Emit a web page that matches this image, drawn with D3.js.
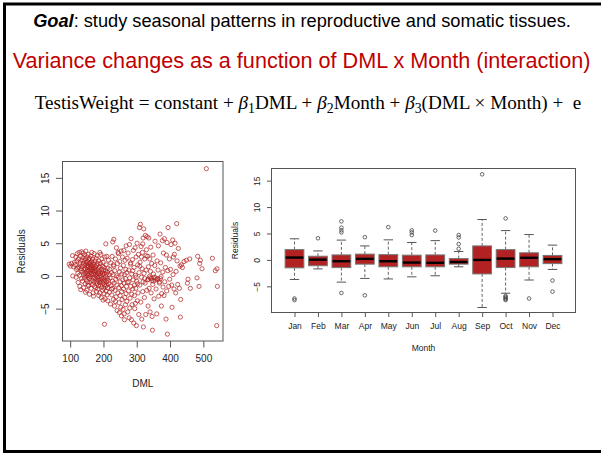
<!DOCTYPE html>
<html>
<head>
<meta charset="utf-8">
<script src="https://cdn.jsdelivr.net/npm/d3@7"></script>
<style>
  body { margin: 0; background: #fff; }
  svg { display: block; }
</style>
</head>
<body>
<svg id="slide" width="601" height="453"></svg>
<script>
// ---- data ----
var scatterDML = [
  97,101,104,107,108,110,113,115,117,119,120,121,123,124,125,126,127,128,129,130,131,132,133,134,134,135,133,129,122,118,
  136,137,138,138,139,140,140,141,142,142,143,144,144,145,145,146,146,147,147,148,148,149,149,150,150,151,151,152,152,153,
  153,154,154,155,155,156,156,157,157,158,158,159,159,160,160,161,161,162,162,163,163,164,164,165,165,166,166,167,167,168,
  168,169,169,170,170,171,171,172,172,173,173,174,174,175,175,153,158,146,165,170,
  176,176,177,177,178,178,179,179,180,180,181,181,182,182,183,183,184,184,185,185,186,186,187,187,188,188,189,189,190,190,
  191,191,192,192,193,193,194,194,195,195,196,196,197,197,198,198,199,199,200,200,201,201,202,202,203,203,204,204,205,205,
  206,206,207,207,208,208,209,209,210,210,211,211,212,212,213,213,214,215,216,217,
  218,219,220,221,222,223,224,225,226,227,228,228,229,230,231,231,232,233,234,235,236,237,238,239,240,240,241,242,243,244,
  245,246,247,248,249,250,250,251,252,253,254,255,255,256,257,258,259,260,260,261,262,263,263,264,265,266,266,267,268,268,
  269,270,270,262,254,248,244,236,230,224,
  271,272,273,274,275,276,277,278,279,280,281,282,283,284,285,286,287,288,289,290,291,292,293,294,295,296,297,298,299,300,
  301,302,303,304,305,306,307,308,309,310,311,312,313,314,315,316,317,318,319,320,321,322,323,324,325,326,327,328,329,330,
  276,282,288,293,298,303,309,314,319,324,279,296,318,328,285,
  331,332,333,334,335,336,337,338,339,340,341,342,343,344,345,346,347,348,349,350,351,352,354,355,356,358,360,361,362,364,
  365,366,368,370,371,372,374,375,377,378,379,380,382,383,384,386,388,389,390,391,392,393,394,396,398,399,
  335,340,345,352,357,363,369,373,
  401,403,405,406,408,409,410,412,413,415,417,418,420,421,423,425,428,430,431,432,434,437,442,449,452,454,459,461,481,483,
  487,489,491,496,509,527,536,541,542,540
];
var scatterResid = [
  1.8,1.5,1.9,3.1,0.0,1.4,2.1,1.7,2.9,1.0,2.3,3.4,0.4,-1.0,2.6,1.3,3.6,0.1,-1.6,2.0,3.0,-2.1,1.1,3.7,-0.4,2.4,0.8,1.7,1.2,-0.2,
  1.5,-0.8,2.8,0.6,3.5,1.9,-1.8,0.2,2.3,1.0,-0.3,3.2,1.6,0.4,-1.2,2.6,1.1,0.0,3.8,1.8,-0.6,2.1,0.7,1.3,-2.2,2.9,0.3,1.6,-0.9,2.2,
  0.9,-0.2,3.3,1.4,0.1,2.5,-1.5,0.8,1.9,-0.4,2.7,1.2,0.5,-1.0,2.0,1.6,-0.1,0.9,3.0,1.3,-1.9,0.4,2.2,-0.7,1.0,1.8,0.2,-1.3,2.6,0.7,
  1.5,-0.3,-2.6,1.1,2.0,0.3,-0.9,1.7,3.4,0.6,-1.6,1.2,-0.2,2.3,0.8,-1.4,-2.8,-2.5,3.6,-3.1,
  -0.5,1.4,0.2,-1.8,2.7,0.9,-0.9,-2.4,1.6,0.0,-1.2,3.1,0.5,-0.3,1.9,-2.0,-0.7,1.1,0.3,-1.5,2.3,-3.0,0.7,-0.1,-1.0,1.4,3.6,-2.6,0.4,-0.6,
  1.9,-1.4,0.1,3.3,-0.9,-3.3,1.0,-0.2,2.6,-1.7,0.6,-0.5,-2.2,1.5,-1.1,0.2,-3.7,2.1,-0.8,0.9,-1.9,-0.3,1.3,-2.7,-7.4,0.4,-1.3,2.9,-0.6,-3.5,
  0.8,-1.6,-0.1,4.9,-2.3,1.7,-0.9,0.3,-1.4,3.0,-2.9,0.6,-0.4,-1.8,1.2,-3.8,-0.7,2.4,-1.2,0.2,
  -2.5,1.0,-0.3,-4.3,2.0,-1.5,0.5,-2.9,3.0,-0.8,5.2,-1.9,0.2,-3.6,5.6,1.5,-1.1,-4.6,0.8,-2.2,2.6,-0.5,-3.2,4.3,-1.4,0.0,-5.3,1.9,-2.6,-0.2,
  3.4,-1.8,-4.1,0.6,2.2,-3.0,-0.9,1.2,-4.8,3.8,-1.5,-2.4,0.3,-3.6,2.9,-0.6,-5.1,1.6,-2.0,3.9,-1.1,-6.7,0.2,-3.3,2.4,-0.4,-4.4,1.0,-2.7,4.6,
  -1.6,0.5,-3.9,-5.8,-6.1,-5.6,3.6,-3.9,1.7,-2.0,
  2.7,-1.0,-5.5,3.5,-2.3,0.9,-6.4,4.8,-0.3,-3.4,1.8,-1.6,5.7,-6.7,0.3,-4.4,2.5,-2.0,-0.6,3.9,-7.2,1.3,-3.0,-5.0,4.3,0.1,-1.9,2.9,-7.6,-0.8,
  5.0,-3.8,1.7,-2.6,3.3,-5.9,0.5,7.4,-1.4,2.1,7.9,-4.0,4.5,-0.2,-6.6,1.1,3.6,-2.4,5.8,-7.8,7.2,0.4,-3.3,2.6,-1.1,6.2,-5.9,0.9,4.0,-2.2,
  -0.9,2.0,0.8,-1.4,-0.2,-1.2,1.5,2.9,-0.9,-0.4,-4.9,-4.2,4.9,3.1,-2.8,
  6.0,-0.6,3.0,-4.6,1.4,5.8,-1.9,-0.1,2.6,-5.5,0.7,4.4,-2.6,-0.4,1.9,-6.2,-8.3,-1.3,3.2,0.3,-0.8,-3.5,1.6,5.3,-0.3,-2.0,-5.8,2.3,-0.5,0.9,
  4.6,-3.1,-1.1,6.4,-0.4,2.0,-4.6,-2.7,5.4,0.6,-1.7,3.5,-3.0,5.7,-0.9,1.3,-6.6,3.2,-2.3,5.1,-8.9,0.8,7.4,-1.6,2.6,-0.5,
  -0.5,-0.3,-0.7,-0.2,-0.6,-0.4,-0.9,-0.1,
  1.0,4.8,-1.4,-4.8,5.5,0.2,2.9,-2.0,3.3,5.0,-2.6,0.7,8.0,2.3,-1.3,4.2,-1.9,1.5,-6.3,-3.6,1.7,1.3,2.2,2.4,-1.1,-0.5,2.6,-1.9,-0.3,3.0,
  -1.6,1.9,2.4,1.1,16.4,2.7,0.8,1.1,-1.6,-7.6
];

var months    = ["Jan","Feb","Mar","Apr","May","Jun","Jul","Aug","Sep","Oct","Nov","Dec"];
var boxLow    = [-3.7,-1.7,-4.2,-3.5,-3.6,-3.2,-3.0,-1.3,-9.0,-6.3,-3.8,-1.8];
var boxQ1     = [-1.5,-1.1,-1.45,-0.8,-1.3,-1.3,-1.3,-0.8,-2.65,-1.45,-1.3,-0.7];
var boxMedian = [0.45,0.05,-0.25,0.2,-0.25,-0.5,-0.55,-0.4,0.0,0.25,0.4,0.15];
var boxQ3     = [1.95,0.7,0.95,1.1,1.0,0.9,0.95,0.25,2.65,1.95,1.35,0.85];
var boxHigh   = [4.0,1.7,3.75,2.65,3.8,3.3,3.65,1.6,7.65,5.55,4.8,2.8];
var boxOutliers = [
  [-7.3,-7.6],
  [4.1],
  [7.3,6.1,5.6,5.2,-6.25],
  [4.3,-6.7],
  [6.2],
  [5.6,5.2,4.7],
  [5.55],
  [4.7,4.25,3.0,2.1],
  [16.2],
  [7.85,-6.8,-7.0,-7.2,-7.4,-7.6],
  [-7.3],
  [-3.9,-6.0]
];
var residTicks = [-5, 0, 5, 10, 15];
var dmlTicks = [100, 200, 300, 400, 500];

var red = "#b22222";
var axisCol = "#555";
var textCol = "#222";

var svg = d3.select("#slide");

svg.append("rect").attr("width", 601).attr("height", 453).attr("fill", "#fff");

// slide frame (right side runs off the page)
svg.append("rect")
    .attr("x", 4.5).attr("y", 4)
    .attr("width", 660).attr("height", 447.5)
    .attr("fill", "none").attr("stroke", "#000").attr("stroke-width", 3);

// stretch a text line so it spans a given width
function fitWidth(sel, w) {
  var len = sel.node().getComputedTextLength();
  var fs = parseFloat(sel.attr("font-size"));
  sel.attr("font-size", (fs * w / len).toFixed(2));
}

// ---- heading lines ----
var goal = svg.append("text")
    .attr("x", 302).attr("y", 27)
    .attr("text-anchor", "middle")
    .attr("font-family", "Liberation Sans, Arial, sans-serif")
    .attr("font-size", 16)
    .attr("fill", "#000");
goal.append("tspan").attr("font-weight", "bold").attr("font-style", "italic").text("Goal");
goal.append("tspan").text(": study seasonal patterns in reproductive and somatic tissues.");
fitWidth(goal, 538);

var variance = svg.append("text")
    .attr("x", 301.5).attr("y", 68)
    .attr("text-anchor", "middle")
    .attr("font-family", "Liberation Sans, Arial, sans-serif")
    .attr("font-size", 20)
    .attr("fill", "#c00000")
    .text("Variance changes as a function of DML x Month (interaction)");
fitWidth(variance, 578);

// equation, built piece by piece so the betas get subscripts
var eq = svg.append("text")
    .attr("x", 308).attr("y", 109)
    .attr("text-anchor", "middle")
    .attr("font-family", "Liberation Serif, DejaVu Serif, serif")
    .attr("font-size", 17)
    .attr("fill", "#000")
    .style("white-space", "pre");
var eqParts = [
  { t: "TestisWeight = constant + " },
  { t: "β", it: true }, { t: "1", sub: true },
  { t: "DML + " },
  { t: "β", it: true }, { t: "2", sub: true },
  { t: "Month + " },
  { t: "β", it: true }, { t: "3", sub: true },
  { t: "(DML × Month) +  e" }
];
var shifted = false;
eqParts.forEach(function(p) {
  var ts = eq.append("tspan").text(p.t);
  if (p.it) ts.attr("font-style", "italic");
  if (p.sub) {
    ts.attr("font-size", "0.72em").attr("dy", 3.5);
    shifted = true;
  } else if (shifted) {
    ts.attr("dy", -3.5);
    shifted = false;
  }
});
fitWidth(eq, 547);

// ---- scatter: residuals vs DML ----
var sc = { left: 62.5, right: 223, top: 161.5, bottom: 341 };

var xS = d3.scaleLinear().domain([77, 559]).range([sc.left, sc.right]);
var yS = d3.scaleLinear().domain([-9.95, 17.5]).range([sc.bottom, sc.top]);

var gS = svg.append("g");

gS.selectAll("circle.pt")
    .data(d3.range(scatterDML.length))
  .enter().append("circle")
    .attr("class", "pt")
    .attr("cx", function(i) { return xS(scatterDML[i]); })
    .attr("cy", function(i) { return yS(scatterResid[i]); })
    .attr("r", 2.1)
    .attr("fill", "none")
    .attr("stroke", red)
    .attr("stroke-opacity", 0.9)
    .attr("stroke-width", 0.8);

gS.append("rect")
    .attr("x", sc.left).attr("y", sc.top)
    .attr("width", sc.right - sc.left).attr("height", sc.bottom - sc.top)
    .attr("fill", "none").attr("stroke", axisCol).attr("stroke-width", 1);

var xAxisS = d3.axisBottom(xS).tickValues(dmlTicks).tickSize(6.5).tickPadding(7);
gS.append("g")
    .attr("transform", "translate(0," + sc.bottom + ")")
    .call(xAxisS)
    .call(styleAxis, 10);

var yAxisS = d3.axisLeft(yS).tickValues(residTicks).tickSize(6.5).tickPadding(0);
gS.append("g")
    .attr("transform", "translate(" + sc.left + ",0)")
    .call(yAxisS)
    .call(styleAxis, 10)
    .call(rotateLabels, 17.5);

gS.append("text")
    .attr("x", (sc.left + sc.right) / 2).attr("y", 387)
    .attr("text-anchor", "middle")
    .attr("font-family", "Liberation Sans, Arial, sans-serif")
    .attr("font-size", 10).attr("fill", textCol)
    .text("DML");

gS.append("text")
    .attr("transform", "translate(25," + ((sc.top + sc.bottom) / 2) + ") rotate(-90)")
    .attr("text-anchor", "middle")
    .attr("font-family", "Liberation Sans, Arial, sans-serif")
    .attr("font-size", 10).attr("fill", textCol)
    .text("Residuals");

// ---- boxplot: residuals by month ----
var bx = { left: 271.5, right: 575.5, top: 168.5, bottom: 312.5 };

var xB = d3.scaleLinear().domain([0.02, 12.98]).range([bx.left, bx.right]);
var yB = d3.scaleLinear().domain([-9.95, 17.3]).range([bx.bottom, bx.top]);
var boxW = (xB(1) - xB(0)) * 0.8;

var gB = svg.append("g");

var mg = gB.selectAll("g.month")
    .data(months)
  .enter().append("g")
    .attr("class", "month")
    .attr("transform", function(d, i) { return "translate(" + xB(i + 1) + ",0)"; });

// whiskers
mg.append("line")
    .attr("y1", function(d, i) { return yB(boxQ3[i]); })
    .attr("y2", function(d, i) { return yB(boxHigh[i]); })
    .attr("stroke", axisCol).attr("stroke-width", 0.9).attr("stroke-dasharray", "3,2");
mg.append("line")
    .attr("y1", function(d, i) { return yB(boxQ1[i]); })
    .attr("y2", function(d, i) { return yB(boxLow[i]); })
    .attr("stroke", axisCol).attr("stroke-width", 0.9).attr("stroke-dasharray", "3,2");
mg.append("line")
    .attr("x1", -boxW / 4).attr("x2", boxW / 4)
    .attr("y1", function(d, i) { return yB(boxHigh[i]); })
    .attr("y2", function(d, i) { return yB(boxHigh[i]); })
    .attr("stroke", axisCol).attr("stroke-width", 1);
mg.append("line")
    .attr("x1", -boxW / 4).attr("x2", boxW / 4)
    .attr("y1", function(d, i) { return yB(boxLow[i]); })
    .attr("y2", function(d, i) { return yB(boxLow[i]); })
    .attr("stroke", axisCol).attr("stroke-width", 1);

// boxes
mg.append("rect")
    .attr("x", -boxW / 2).attr("width", boxW)
    .attr("y", function(d, i) { return yB(boxQ3[i]); })
    .attr("height", function(d, i) { return yB(boxQ1[i]) - yB(boxQ3[i]); })
    .attr("fill", red).attr("stroke", "#777").attr("stroke-width", 1);

// medians
mg.append("line")
    .attr("x1", -boxW / 2 + 0.5).attr("x2", boxW / 2 - 0.5)
    .attr("y1", function(d, i) { return yB(boxMedian[i]); })
    .attr("y2", function(d, i) { return yB(boxMedian[i]); })
    .attr("stroke", "#000").attr("stroke-width", 2.4);

// outliers
mg.selectAll("circle")
    .data(function(d, i) { return boxOutliers[i]; })
  .enter().append("circle")
    .attr("cy", function(v) { return yB(v); })
    .attr("r", 1.8)
    .attr("fill", "none").attr("stroke", "#444").attr("stroke-width", 0.8);

gB.append("rect")
    .attr("x", bx.left).attr("y", bx.top)
    .attr("width", bx.right - bx.left).attr("height", bx.bottom - bx.top)
    .attr("fill", "none").attr("stroke", axisCol).attr("stroke-width", 1);

var xAxisB = d3.axisBottom(xB)
    .tickValues(d3.range(1, 13))
    .tickFormat(function(d) { return months[d - 1]; })
    .tickSize(4.5).tickPadding(6);
gB.append("g")
    .attr("transform", "translate(0," + bx.bottom + ")")
    .call(xAxisB)
    .call(styleAxis, 8.5);

var yAxisB = d3.axisLeft(yB).tickValues(residTicks).tickSize(4.5).tickPadding(0);
gB.append("g")
    .attr("transform", "translate(" + bx.left + ",0)")
    .call(yAxisB)
    .call(styleAxis, 8.5)
    .call(rotateLabels, 15.5);

gB.append("text")
    .attr("x", (bx.left + bx.right) / 2).attr("y", 351)
    .attr("text-anchor", "middle")
    .attr("font-family", "Liberation Sans, Arial, sans-serif")
    .attr("font-size", 8.5).attr("fill", textCol)
    .text("Month");

gB.append("text")
    .attr("transform", "translate(238," + ((bx.top + bx.bottom) / 2) + ") rotate(-90)")
    .attr("text-anchor", "middle")
    .attr("font-family", "Liberation Sans, Arial, sans-serif")
    .attr("font-size", 8.5).attr("fill", textCol)
    .text("Residuals");

function styleAxis(g, fs) {
  g.select(".domain").remove();
  g.selectAll(".tick line").attr("stroke", axisCol);
  g.selectAll(".tick text")
      .attr("font-family", "Liberation Sans, Arial, sans-serif")
      .attr("font-size", fs)
      .attr("fill", textCol);
}

// R style: y tick labels read bottom to top
function rotateLabels(g, off) {
  g.selectAll(".tick text")
      .attr("x", null).attr("dy", null)
      .attr("text-anchor", "middle")
      .attr("transform", "translate(" + (-off + 3.5) + ",0) rotate(-90)");
}
</script>
</body>
</html>
